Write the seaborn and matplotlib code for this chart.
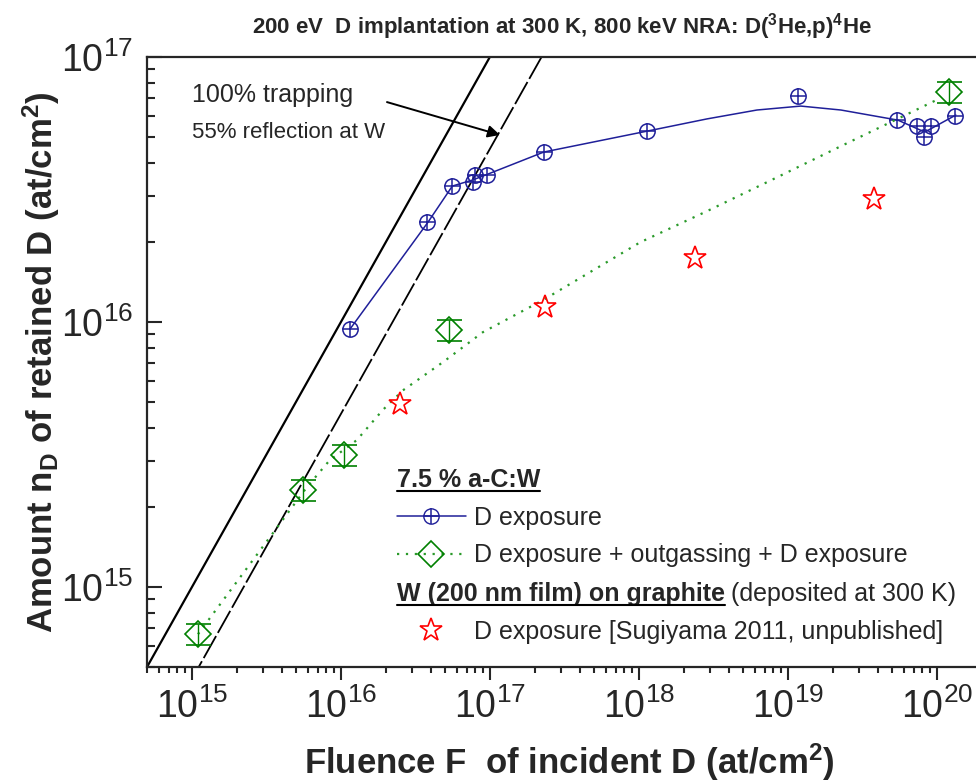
import numpy as np
import pandas as pd
import seaborn as sns
import matplotlib.pyplot as plt
from matplotlib import font_manager
from matplotlib.lines import Line2D

# 7.5 % a-C:W, D exposure (measured points)
blue_x = [1.15e16, 3.8e16, 5.6e16, 7.7e16, 7.9e16, 9.5e16, 2.3e17, 1.13e18,
          1.17e19, 5.4e19, 7.35e19, 8.2e19, 9.1e19, 1.32e20]
blue_y = [9.4e15, 2.38e16, 3.26e16, 3.38e16, 3.6e16, 3.6e16, 4.38e16, 5.25e16,
          7.13e16, 5.78e16, 5.5e16, 4.99e16, 5.5e16, 5.99e16]
# smooth guide line drawn through the blue points
blue_curve_x = [1.15e16, 3.84e16, 5.6e16, 7.7e16, 9.5e16, 2.3e17, 1.13e18, 2.86e18,
                6.2e18, 1.22e19, 2.27e19, 5.47e19, 8.3e19, 1.34e20]
blue_curve_y = [9.4e15, 2.38e16, 3.26e16, 3.44e16, 3.6e16, 4.38e16, 5.25e16, 5.84e16,
                6.31e16, 6.53e16, 6.31e16, 5.78e16, 5.21e16, 6.04e16]

# 7.5 % a-C:W, D exposure + outgassing + D exposure
green_x = [1.1e15, 5.56e15, 1.05e16, 5.3e16, 1.2e20]
green_y = [6.65e14, 2.32e15, 3.15e15, 9.33e15, 7.38e16]
green_err = [0.6e14, 0.21e15, 0.29e15, 0.86e15, 0.68e16]
green_fit_x = [1.1e15, 1.22e15, 3.5e15, 5.9e15, 8.4e15, 1.28e16, 1.91e16, 2.61e16,
               4.84e16, 8.97e16, 2.27e17, 1.02e18, 2.86e18, 8.05e18, 2.27e19,
               6.38e19, 1.03e20]
green_fit_y = [6.65e14, 7.2e14, 1.6e15, 2.38e15, 3.01e15, 3.59e15, 4.66e15, 5.53e15,
               7.06e15, 9.16e15, 1.21e16, 2.0e16, 2.62e16, 3.47e16, 4.61e16,
               6.1e16, 6.95e16]

# W (200 nm film) on graphite, Sugiyama 2011
star_x = [2.5e16, 2.34e17, 2.38e18, 3.78e19]
star_y = [4.9e15, 1.14e16, 1.75e16, 2.91e16]

# reference lines: 100% trapping and 55% reflection (45% trapped)
guide_x = [1e14, 1e18]
trap_full = [1e14, 1e18]
trap_refl = [4.5e13, 4.5e17]

blue = "#1f1f99"
green = "#008000"

sns.set_style("ticks")
names = {f.name for f in font_manager.fontManager.ttflist}
narrow = "Liberation Sans Narrow" if "Liberation Sans Narrow" in names else "Liberation Sans"
plt.rcParams["font.family"] = ["Liberation Sans", "DejaVu Sans"]
plt.rcParams["mathtext.fontset"] = "custom"
plt.rcParams["mathtext.rm"] = "Liberation Sans"
plt.rcParams["mathtext.bf"] = "Liberation Sans:bold"
plt.rcParams["mathtext.it"] = "Liberation Sans:italic"

fig = plt.figure(figsize=(9.76, 7.83), dpi=100)
ax = fig.add_axes([0.1506, 0.1481, 0.8494, 0.7791])

# trapping guide lines
sns.lineplot(x=guide_x, y=trap_full, color="black", lw=1.6, ax=ax)
sns.lineplot(x=guide_x, y=trap_refl, color="black", lw=1.3, linestyle=(0, (14, 2)), ax=ax)

# blue series
sns.lineplot(x=blue_curve_x, y=blue_curve_y, sort=False, estimator=None,
             color=blue, lw=1.1, ax=ax)
ax.plot(blue_x, blue_y, "o", ms=11, mfc="none", mec=blue, mew=1.1)
ax.plot(blue_x, blue_y, "+", ms=11, mec=blue, mew=1.1)

# green series
sns.lineplot(x=green_fit_x, y=green_fit_y, sort=False, estimator=None,
             color="#2a9a2a", lw=1.6, linestyle=(0, (1, 3)), ax=ax)
ax.errorbar(green_x, green_y, yerr=green_err, fmt="D", ms=13, mfc="none",
            mec=green, mew=1.2, ecolor=green, elinewidth=1.0, capsize=9, capthick=1.2)

# red stars
ax.plot(star_x, star_y, "*", ms=17, mfc="none", mec="red", mew=1.2, ls="none")

ax.set_xscale("log")
ax.set_yscale("log")
ax.set_xlim(5e14, 1.83e20)
ax.set_ylim(5e14, 1e17)

# annotation for the guide lines
ax.text(1.0e15, 6.76e16, "100% trapping", fontsize=18, va="baseline")
ax.text(1.0e15, 4.94e16, "55% reflection at W", fontsize=16, va="baseline")
ax.annotate("", xy=(1.17e17, 5.08e16), xytext=(2.04e16, 6.76e16),
            arrowprops=dict(arrowstyle="-|>", color="black", lw=1.4,
                            mutation_scale=18, shrinkA=0, shrinkB=0))

# legends
h_blue = (Line2D([], [], color=blue, lw=1.1, marker="o", ms=11, mfc="none", mec=blue),
          Line2D([], [], ls="none", marker="+", ms=11, mec=blue, mew=1.1))
h_green = Line2D([], [], color="#2a9a2a", lw=1.6, ls=(0, (1, 3)), marker="D", ms=13,
                 mfc="none", mec=green, mew=1.2)
h_star = Line2D([], [], ls="none", marker="*", ms=17, mfc="none", mec="red", mew=1.2)

leg_kw = dict(loc="upper left", frameon=False, fontsize=18, alignment="left",
              title_fontproperties={"weight": "bold", "size": 18},
              handlelength=2.75, handletextpad=0.32, borderpad=0, borderaxespad=0,
              labelspacing=0.55, numpoints=1)
leg1 = ax.legend([h_blue, h_green], ["D exposure", "D exposure + outgassing + D exposure"],
                 title="7.5 % a-C:W", bbox_to_anchor=(0.3016, 0.3265), **leg_kw)
ax.add_artist(leg1)
leg2 = ax.legend([h_star], ["D exposure [Sugiyama 2011, unpublished]"],
                 title="W (200 nm film) on graphite", bbox_to_anchor=(0.3016, 0.139), **leg_kw)
ax.annotate("(deposited at 300 K)", xy=(1, 0), xycoords=leg2.get_title(),
            xytext=(4, 0), textcoords="offset points", va="bottom", ha="left", fontsize=18)

# axes styling
for side in ["left", "bottom", "top"]:
    ax.spines[side].set_linewidth(1.6)
ax.spines["right"].set_visible(False)
ax.tick_params(axis="y", which="major", direction="in", length=11, width=1.5,
               labelsize=27, pad=10)
ax.tick_params(axis="y", which="minor", direction="in", length=5.5, width=1.5)
ax.tick_params(axis="x", which="major", direction="out", length=9.5, width=1.5,
               labelsize=27, pad=6)
ax.tick_params(axis="x", which="minor", direction="out", length=4.5, width=1.5)
ax.tick_params(right=False, top=False, which="both")

ax.set_ylabel(r"Amount n$_{\mathbf{D}}$ of retained D (at/cm$^{\mathbf{2}}$)",
              fontsize=25, fontweight="bold")
ax.yaxis.set_label_coords(-0.1025, 0.5)
ax.set_xlabel(r"Fluence F  of incident D (at/cm$^{\mathbf{2}}$)",
              fontsize=25, fontweight="bold", family=narrow)
ax.xaxis.set_label_coords(0.509, -0.122)
ax.set_title(r"200 eV  D implantation at 300 K, 800 keV NRA: D($^{\mathbf{3}}$He,p)$^{\mathbf{4}}$He",
             fontsize=16, fontweight="bold", family=narrow, pad=17)

# underline the legend headers
fig.canvas.draw()
inv = fig.transFigure.inverted()
for t in [leg1.get_title(), leg2.get_title()]:
    bb = t.get_window_extent()
    (x0, y0), (x1, _) = inv.transform([(bb.x0, bb.y0 + 1), (bb.x1, bb.y0 + 1)])
    fig.add_artist(Line2D([x0, x1], [y0, y0], transform=fig.transFigure,
                          color="black", lw=1.5))

fig.savefig("out.png", dpi=100)
